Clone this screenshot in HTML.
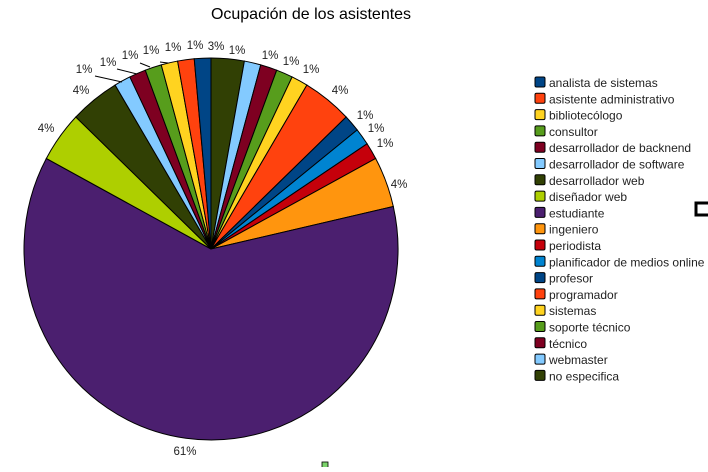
<!DOCTYPE html>
<html><head><meta charset="utf-8"><style>
body{margin:0;background:#fff;width:708px;height:467px;overflow:hidden}
svg text{font-family:"Liberation Sans",sans-serif}
</style></head><body>
<svg id="s" width="708" height="467" xmlns="http://www.w3.org/2000/svg">
<text x="311" y="19" font-size="16" text-anchor="middle" fill="#000">Ocupación de los asistentes</text>
<g id="pie"></g>
<g font-size="11.5" fill="#222" text-anchor="middle">
<text x="108" y="66">1%</text><text x="130" y="59">1%</text><text x="151" y="54">1%</text>
<text x="173" y="51">1%</text><text x="195" y="49">1%</text><text x="216" y="50">3%</text>
<text x="237" y="54">1%</text><text x="270" y="59">1%</text><text x="291" y="65">1%</text>
<text x="311" y="73">1%</text><text x="340" y="94">4%</text><text x="365" y="119">1%</text>
<text x="376" y="132">1%</text><text x="385" y="147">1%</text><text x="399" y="188">4%</text>
<text x="185" y="455">61%</text><text x="46" y="132">4%</text><text x="81" y="94">4%</text>
<text x="84" y="73">1%</text>
</g>
<g stroke="#000" stroke-width="1">
<line x1="95" y1="76" x2="122" y2="82"/><line x1="117" y1="69" x2="137" y2="74"/>
<line x1="140" y1="63" x2="150" y2="67"/><line x1="160" y1="62" x2="168" y2="63"/>
</g>
<g id="leg" font-size="12" fill="#222"></g>
<path d="M708 203 H696 V215 H708" fill="none" stroke="#000" stroke-width="3"/>
<rect x="322" y="462" width="6" height="6" fill="#7bd36b" stroke="#000" stroke-width="0.8"/>
</svg>
<script>
var names=["analista de sistemas","asistente administrativo","bibliotecólogo","consultor","desarrollador de backnend","desarrollador de software","desarrollador web","diseñador web","estudiante","ingeniero","periodista","planificador de medios online","profesor","programador","sistemas","soporte técnico","técnico","webmaster","no especifica"];
var pal=["#004586","#ff420e","#ffd320","#579d1c","#7e0021","#83caff","#314004","#aecf00","#4b1f6f","#ff950e","#c5000b","#0084d1"];
var vals=[1,1,1,1,1,1,3,3,43,3,1,1,1,3,1,1,1,1,2];
var cols=names.map((n,i)=>pal[i%12]);
var cx=211,cy=249,rx=187,ry=191,tot=70,ns="http://www.w3.org/2000/svg";
var pie=document.getElementById("pie"),a=0;
for(var i=vals.length-1;i>=0;i--){
 var a0=a,a1=a+vals[i]/tot*2*Math.PI;a=a1;
 var x0=cx+rx*Math.sin(a0),y0=cy-ry*Math.cos(a0),x1=cx+rx*Math.sin(a1),y1=cy-ry*Math.cos(a1);
 var p=document.createElementNS(ns,"path");
 p.setAttribute("d","M"+cx+" "+cy+" L"+x0+" "+y0+" A"+rx+" "+ry+" 0 "+((a1-a0)>Math.PI?1:0)+" 1 "+x1+" "+y1+" Z");
 p.setAttribute("fill",cols[i]);p.setAttribute("stroke","#000");p.setAttribute("stroke-width","1");
 pie.appendChild(p);
}
var leg=document.getElementById("leg");
names.forEach(function(n,i){
 var y=77+i*16.3;
 var rc=document.createElementNS(ns,"rect");
 rc.setAttribute("x",535);rc.setAttribute("y",y);rc.setAttribute("width",10);rc.setAttribute("height",10);
 rc.setAttribute("rx",1.5);rc.setAttribute("fill",cols[i]);rc.setAttribute("stroke","#000");rc.setAttribute("stroke-width","1");
 leg.appendChild(rc);
 var t=document.createElementNS(ns,"text");t.setAttribute("x",549);t.setAttribute("y",y+10);t.textContent=n;leg.appendChild(t);
});
</script>
</body></html>
